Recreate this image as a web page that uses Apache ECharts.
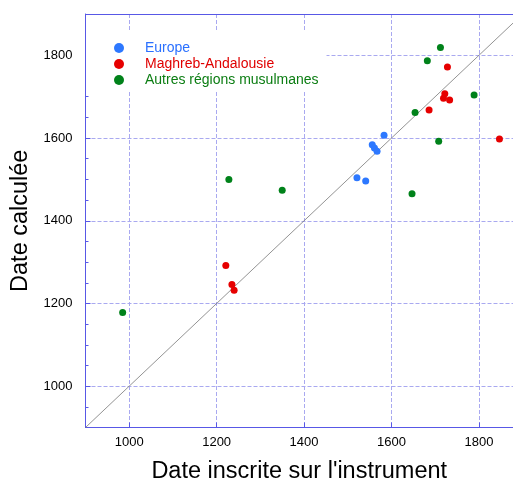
<!DOCTYPE html>
<html>
<head>
<meta charset="utf-8">
<script src="https://cdn.jsdelivr.net/npm/echarts@6/dist/echarts.min.js"></script>
<style>
  html, body { margin: 0; padding: 0; background: #fff; }
  #chart { width: 513px; height: 479px; }
</style>
</head>
<body>
<div id="chart"></div>
<script>
// [date inscrite, date calculée]
const europe = [
  [1521, 1504], [1541, 1496], [1556, 1584], [1561, 1576], [1567, 1568], [1583, 1607]
]
const maghreb = [
  [1221, 1292], [1235, 1246], [1240, 1232], [1686, 1668], [1719, 1696],
  [1722, 1707], [1733, 1692], [1728, 1772], [1847, 1598]
]
const autres = [
  [985, 1178], [1228, 1500], [1350, 1474], [1647, 1465], [1654, 1662],
  [1682, 1787], [1708, 1592], [1712, 1819], [1789, 1704]
]
// droite y = x
const diagonal = [[900, 900], [1900, 1900]]

const seriesNames = ['Europe', 'Maghreb-Andalousie', 'Autres régions musulmanes']
const seriesColors = ['#2d78ff', '#e60000', '#00821a']
const textColors = ['#2a70ff', '#e00000', '#0b7d12']

const axisBlue = '#5858e6'
const gridBlue = '#a9a9f0'
const font = 'Liberation Sans, Arial, Helvetica, sans-serif'

const chart = echarts.init(document.getElementById('chart'))

const baseAxis = {
  type: 'value',
  splitNumber: 5,
  axisLine: { show: true, lineStyle: { color: axisBlue, width: 1 } },
  axisTick: { show: true, inside: true, length: 5, lineStyle: { color: axisBlue } },
  axisLabel: {
    color: '#000', fontSize: 13, fontFamily: font,
    showMinLabel: false, showMaxLabel: false,
    formatter: v => String(v)
  },
  splitLine: { show: true, lineStyle: { color: gridBlue, type: [4, 2], width: 1 } },
  nameLocation: 'middle',
  nameTextStyle: { color: '#000', fontSize: 23.5, fontFamily: font }
}

const option = {
  animation: false,
  backgroundColor: '#fff',
  grid: {
    left: 85.5, top: 14, right: 0, bottom: 51.5,
    containLabel: false, outerBoundsMode: 'none'
  },
  legend: {
    orient: 'vertical',
    left: 86,
    top: 30,
    padding: [10, 8, 4, 28],
    backgroundColor: '#fff',
    itemWidth: 10,
    itemHeight: 10,
    itemGap: 0,
    icon: 'circle',
    textStyle: { fontSize: 14, fontFamily: font, lineHeight: 16, padding: [0, 0, 0, 16] },
    data: seriesNames.map((n, i) => ({ name: n, textStyle: { color: textColors[i] } }))
  },
  xAxis: [
    Object.assign({}, baseAxis, {
      min: 900, max: 1878,
      name: "Date inscrite sur l'instrument",
      nameGap: 32,
      axisLabel: Object.assign({}, baseAxis.axisLabel, { margin: 8 })
    }),
    {
      type: 'value', position: 'top', min: 900, max: 1878,
      axisLine: { show: true, lineStyle: { color: axisBlue } },
      axisTick: { show: false }, axisLabel: { show: false }, splitLine: { show: false }
    }
  ],
  yAxis: Object.assign({}, baseAxis, {
    min: 900, max: 1900,
    name: 'Date calculée',
    nameGap: 42,
    axisLabel: Object.assign({}, baseAxis.axisLabel, { margin: 13 }),
    minorTick: { show: true, splitNumber: 4, length: 3, lineStyle: { color: axisBlue } }
  }),
  series: [
    {
      type: 'line', data: diagonal, showSymbol: false, silent: true,
      lineStyle: { color: '#777', width: 0.8 }, clip: true, z: 1
    },
    ...[europe, maghreb, autres].map((d, i) => ({
      name: seriesNames[i],
      type: 'scatter',
      data: d,
      symbolSize: 7,
      itemStyle: { color: seriesColors[i], opacity: 1 },
      z: 3
    }))
  ]
}

chart.setOption(option)
</script>
</body>
</html>
